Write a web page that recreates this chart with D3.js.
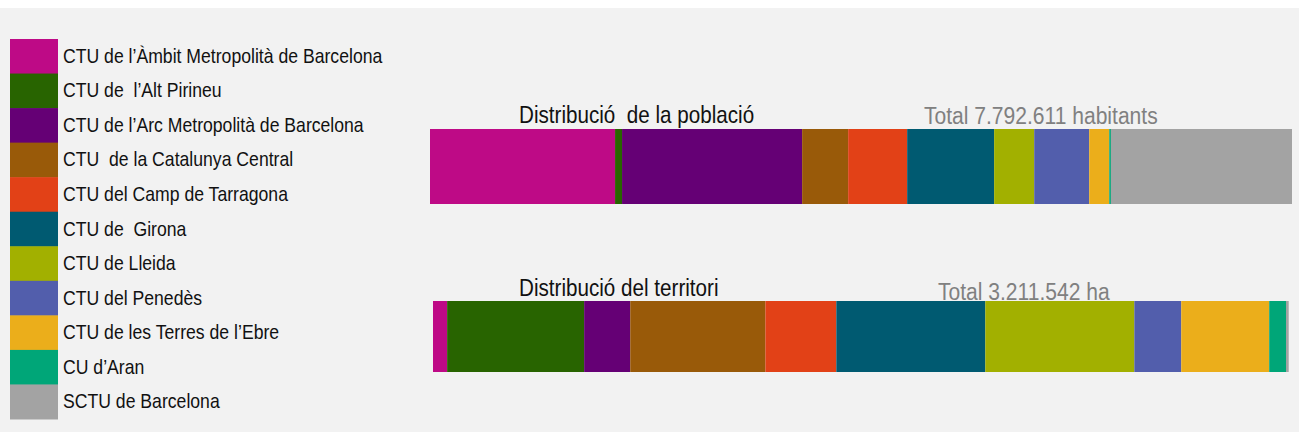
<!DOCTYPE html>
<html>
<head>
<meta charset="utf-8">
<script src="https://cdn.jsdelivr.net/npm/d3@7"></script>
<style>
  body { margin: 0; background: #fff; }
  text { font-family: "Liberation Sans", Arial, sans-serif; }
</style>
</head>
<body>
<div id="chart"></div>
<script>
// categories (legend order = stacking order)
const units = [
    "CTU de l\u2019\u00c0mbit Metropolit\u00e0 de Barcelona",
    "CTU de  l\u2019Alt Pirineu",
    "CTU de l\u2019Arc Metropolit\u00e0 de Barcelona",
    "CTU  de la Catalunya Central",
    "CTU del Camp de Tarragona",
    "CTU de  Girona",
    "CTU de Lleida",
    "CTU del Pened\u00e8s",
    "CTU de les Terres de l\u2019Ebre",
    "CU d\u2019Aran",
    "SCTU de Barcelona"
];

const unitColors = ["#be0a86", "#286400", "#650075", "#995a09", "#e24117", "#005a71",
    "#a2b000", "#525eac", "#ebae1b", "#00a678", "#a3a3a3"];

// habitants per unit
const population = [1672000, 63000, 1627000, 416000, 533000, 786000,
    362000, 497000, 181000, 15000, 1636000];

// hectares per unit
const territory = [53000, 514000, 173000, 507000, 266000, 559000,
    559000, 176000, 330000, 63000, 10100];

const barTitles = ["Distribuci\u00f3  de la poblaci\u00f3", "Distribuci\u00f3 del territori"];
const barTotals = ["Total 7.792.611 habitants", "Total 3.211.542 ha"];

const W = 1299, H = 435;

const svg = d3.select("#chart").append("svg")
    .attr("width", W)
    .attr("height", H);

// grey panel
svg.append("rect")
    .attr("x", 0).attr("y", 8)
    .attr("width", W).attr("height", 424)
    .attr("fill", "#f2f2f2");

// legend
const legendY = d3.scaleBand()
    .domain(units)
    .range([39, 419]);

const legend = svg.append("g").attr("class", "legend");

legend.selectAll("rect")
    .data(units)
    .enter()
    .append("rect")
    .attr("x", 10)
    .attr("y", d => legendY(d))
    .attr("width", 48)
    .attr("height", legendY.bandwidth() + 0.5)
    .attr("fill", (d, i) => unitColors[i]);

legend.selectAll("text")
    .data(units)
    .enter()
    .append("text")
    .attr("transform", d => "translate(63," + (legendY(d) + legendY.bandwidth() / 2 + 6.5) + ") scale(0.86,1)")
    .attr("font-size", 20.5)
    .attr("fill", "#111")
    .style("white-space", "pre")
    .text(d => d);

// stacked bars
const bars = [
    { values: population, x0: 430, x1: 1292, y: 129, h: 75, titleX: 519, titleY: 123, totalX: 924, totalY: 124 },
    { values: territory, x0: 433, x1: 1288.7, y: 301, h: 71, titleX: 519, titleY: 296, totalX: 938, totalY: 300 }
];

bars.forEach((b, k) => {
    let g = svg.append("g").attr("class", "bar-" + k);

    g.append("text")
        .attr("transform", "translate(" + b.titleX + "," + b.titleY + ") scale(0.86,1)")
        .attr("font-size", 24)
        .attr("fill", "#111")
        .style("white-space", "pre")
        .text(barTitles[k]);

    g.append("text")
        .attr("transform", "translate(" + b.totalX + "," + b.totalY + ") scale(0.86,1)")
        .attr("font-size", 24.5)
        .attr("fill", "#808080")
        .text(barTotals[k]);

    let x = d3.scaleLinear()
        .domain([0, d3.sum(b.values)])
        .range([b.x0, b.x1]);

    let ends = Array.from(d3.cumsum(b.values));
    let starts = [0].concat(ends.slice(0, -1));

    g.selectAll("rect")
        .data(b.values)
        .enter()
        .append("rect")
        .attr("x", (d, i) => x(starts[i]))
        .attr("y", b.y)
        .attr("width", (d, i) => x(ends[i]) - x(starts[i]))
        .attr("height", b.h)
        .attr("fill", (d, i) => unitColors[i]);
});
</script>
</body>
</html>
